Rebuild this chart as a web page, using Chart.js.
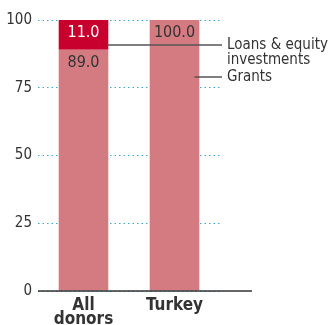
<!DOCTYPE html>
<html>
<head>
<meta charset="utf-8">
<script src="https://cdn.jsdelivr.net/npm/chart.js@4"></script>
<style>
html, body { margin: 0; padding: 0; background: #fff; }
#wrap { width: 332px; height: 325px; }
</style>
</head>
<body>
<div id="wrap"><canvas id="myChart" width="332" height="325"></canvas></div>
<script>
const categories = [['All', 'donors'], 'Turkey'];
const grants = [89.0, 100.0];
const loans = [11.0, 0];
const yTicks = [0, 25, 50, 75, 100];

const FONT = '"DejaVu Sans Condensed", "DejaVu Sans", sans-serif';
const TEXT = '#333333';

// value labels, legend lines and the long baseline
const annotate = {
    id: 'annotate',
    afterDatasetsDraw(chart) {
        const c = chart.ctx;
        const y = chart.scales.y;
        const ca = chart.chartArea;
        const gBars = chart.getDatasetMeta(0).data;
        const lBars = chart.getDatasetMeta(1).data;
        c.save();

        // baseline
        c.strokeStyle = '#333';
        c.lineWidth = 1.5;
        c.beginPath();
        c.moveTo(ca.left, y.getPixelForValue(0));
        c.lineTo(252, y.getPixelForValue(0));
        c.stroke();

        // values
        c.font = '16px ' + FONT;
        c.textAlign = 'center';
        c.textBaseline = 'middle';
        grants.forEach((v, i) => {
            const top = y.getPixelForValue(v);
            c.fillStyle = TEXT;
            c.fillText(v.toFixed(1), gBars[i].x, top + 13);
        });
        loans.forEach((v, i) => {
            if (!v) return;
            const top = y.getPixelForValue(grants[i] + v);
            c.fillStyle = '#fff';
            c.fillText(v.toFixed(1), lBars[i].x, top + 13);
        });

        // legend leaders
        c.strokeStyle = '#555';
        c.lineWidth = 1.3;
        const ly = 45, gy = 77;
        c.beginPath();
        c.moveTo(lBars[0].x + lBars[0].width / 2 - 1, ly);
        c.lineTo(222, ly);
        c.moveTo(gBars[1].x + 20, gy);
        c.lineTo(222, gy);
        c.stroke();

        c.font = '15px ' + FONT;
        c.fillStyle = TEXT;
        c.textAlign = 'left';
        c.fillText('Loans & equity', 227, ly);
        c.fillText('investments', 227, 60);
        c.fillText('Grants', 227, gy);
        c.restore();
    }
};

new Chart(document.getElementById('myChart'), {
    type: 'bar',
    data: {
        labels: categories,
        datasets: [
            {
                label: 'Grants',
                data: grants,
                backgroundColor: '#d47b81',
                borderWidth: 0,
                categoryPercentage: 1,
                barPercentage: 0.545
            },
            {
                label: 'Loans & equity investments',
                data: loans,
                backgroundColor: '#c8002d',
                borderWidth: 0,
                categoryPercentage: 1,
                barPercentage: 0.545
            }
        ]
    },
    options: {
        responsive: false,
        animation: false,
        layout: { padding: { top: 20, right: 112, bottom: 0, left: 0 } },
        plugins: {
            legend: { display: false },
            tooltip: { enabled: false }
        },
        scales: {
            x: {
                stacked: true,
                grid: { display: false },
                border: { display: false },
                ticks: {
                    color: TEXT,
                    font: { family: FONT, size: 17, weight: 'bold', lineHeight: 0.8 },
                    padding: 0
                },
                afterFit(s) { s.height = 34; }
            },
            y: {
                stacked: true,
                min: 0,
                max: 100,
                afterBuildTicks(s) { s.ticks = yTicks.map(v => ({ value: v })); },
                grid: {
                    color: '#3ea6d2',
                    lineWidth: 1,
                    drawTicks: false
                },
                border: { display: false, dash: [1.5, 3] },
                ticks: {
                    color: TEXT,
                    font: { family: FONT, size: 15 },
                    padding: 6
                },
                afterFit(s) { s.width = 38; }
            }
        }
    },
    plugins: [annotate]
});
</script>
</body>
</html>
